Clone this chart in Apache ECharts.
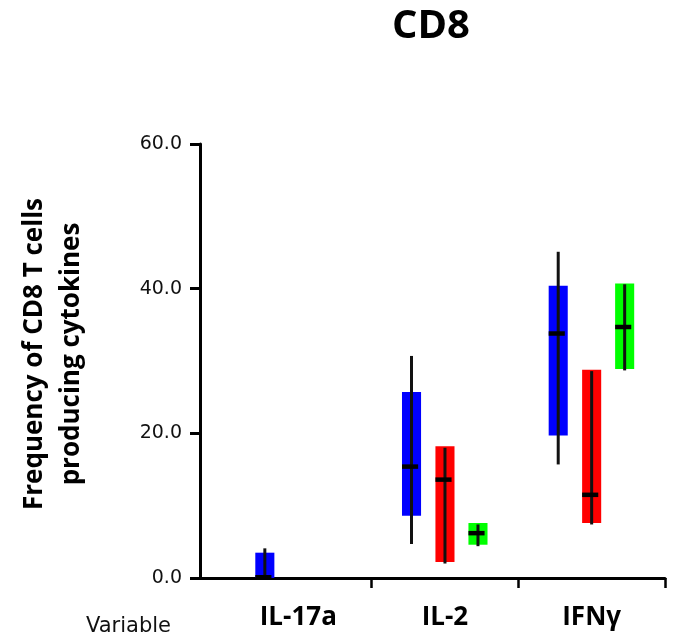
<!DOCTYPE html>
<html>
<head>
<meta charset="utf-8">
<script src="https://cdn.jsdelivr.net/npm/echarts@6/dist/echarts.min.js"></script>
<style>
  html, body { margin: 0; padding: 0; background: #fff; }
  #main { width: 683px; height: 637px; }
</style>
</head>
<body>
<div id="main"></div>
<script>
// categories on the x axis
var categories = ['IL-17a', 'IL-2', 'IFNγ'];
var yTicks = [0, 20, 40, 60];

// blue group
var blueWhiskerLow  = [0,   4.7, 15.7];
var blueBoxLow      = [0,   8.6, 19.7];
var blueMedian      = [0.1, 15.4, 33.8];
var blueBoxHigh     = [3.5, 25.7, 40.4];
var blueWhiskerHigh = [4.1, 30.7, 45.1];

// red group (nothing for IL-17a)
var redWhiskerLow  = [null, 2.0, 7.4];
var redBoxLow      = [null, 2.2, 7.6];
var redMedian      = [null, 13.6, 11.5];
var redBoxHigh     = [null, 18.2, 28.8];
var redWhiskerHigh = [null, 18.0, 28.6];

// green group (nothing for IL-17a)
var greenWhiskerLow  = [null, 4.4, 28.7];
var greenBoxLow      = [null, 4.6, 28.9];
var greenMedian      = [null, 6.2, 34.7];
var greenBoxHigh     = [null, 7.6, 40.7];
var greenWhiskerHigh = [null, 7.4, 40.6];

// build [x, whiskerLow, boxLow, median, boxHigh, whiskerHigh]
function rows(wl, bl, md, bh, wh) {
    var out = [];
    for (var i = 0; i < categories.length; i++) {
        if (bl[i] == null) continue;
        out.push([i, wl[i], bl[i], md[i], bh[i], wh[i]]);
    }
    return out;
}

function boxSeries(name, color, offset, data) {
    return {
        name: name,
        type: 'custom',
        data: data,
        encode: { x: 0, y: [1, 2, 3, 4, 5] },
        renderItem: function (params, api) {
            var x = api.value(0) + offset;
            var boxW = api.size([0.13, 0])[0];
            var medW = api.size([0.11, 0])[0];
            var pWl = api.coord([x, api.value(1)]);
            var pBl = api.coord([x, api.value(2)]);
            var pMd = api.coord([x, api.value(3)]);
            var pBh = api.coord([x, api.value(4)]);
            var pWh = api.coord([x, api.value(5)]);
            var cx = pBl[0];
            return {
                type: 'group',
                children: [{
                    type: 'rect',
                    shape: { x: cx - boxW / 2, y: pBh[1], width: boxW, height: pBl[1] - pBh[1] },
                    style: { fill: color }
                }, {
                    type: 'line',
                    shape: { x1: cx, y1: pWh[1], x2: cx, y2: pWl[1] },
                    style: { stroke: '#111', lineWidth: 3 }
                }, {
                    type: 'line',
                    shape: { x1: cx - boxW / 2, y1: pMd[1], x2: cx - boxW / 2 + medW, y2: pMd[1] },
                    style: { stroke: '#000', lineWidth: 4.5 }
                }]
            };
        }
    };
}

var myChart = echarts.init(document.getElementById('main'));
var options = {
    backgroundColor: '#fff',
    animation: false,
    title: [{
        text: 'CD8',
        left: 426,
        top: 2,
        textAlign: 'center',
        textStyle: { fontFamily: 'Open Sans', fontWeight: 'bold', fontSize: 40, color: '#000' }
    }, {
        text: 'Variable',
        left: 81,
        top: 611,
        textStyle: { fontFamily: 'DejaVu Sans', fontWeight: 'normal', fontSize: 21, color: '#111' }
    }],
    grid: { left: 200, right: 18, top: 144, bottom: 59, outerBoundsMode: 'none' },
    xAxis: {
        type: 'value',
        min: -0.67,
        max: 2.5,
        splitLine: { show: false },
        axisLine: { show: true, lineStyle: { color: '#000', width: 3 } },
        axisTick: { show: true, customValues: [0.5, 1.5, 2.5], length: 10, lineStyle: { color: '#000', width: 2.5 } },
        axisLabel: {
            customValues: [0, 1, 2],
            formatter: function (v) { return categories[Math.round(v)]; },
            margin: 27,
            fontFamily: 'Open Sans',
            fontWeight: 'bold',
            fontSize: 26,
            color: '#000'
        }
    },
    yAxis: {
        type: 'value',
        min: 0,
        max: 60,
        interval: 20,
        name: 'Frequency of CD8 T cells\nproducing cytokines',
        nameLocation: 'middle',
        nameGap: 110,
        nameTextStyle: { fontFamily: 'Open Sans', fontWeight: 'bold', fontSize: 26, lineHeight: 37, color: '#000', padding: [0, 0, 0, 14] },
        splitLine: { show: false },
        axisLine: { show: true, onZero: false, lineStyle: { color: '#000', width: 3 } },
        axisTick: { show: true, length: 10, lineStyle: { color: '#000', width: 3 } },
        axisLabel: {
            customValues: yTicks,
            formatter: function (v) { return v.toFixed(1); },
            margin: 18,
            fontFamily: 'DejaVu Sans',
            fontSize: 19,
            color: '#111'
        }
    },
    series: [
        boxSeries('blue', '#0000ff', -0.228, rows(blueWhiskerLow, blueBoxLow, blueMedian, blueBoxHigh, blueWhiskerHigh)),
        boxSeries('red', '#ff0000', 0, rows(redWhiskerLow, redBoxLow, redMedian, redBoxHigh, redWhiskerHigh)),
        boxSeries('green', '#00ff00', 0.225, rows(greenWhiskerLow, greenBoxLow, greenMedian, greenBoxHigh, greenWhiskerHigh))
    ]
};
myChart.setOption(options, true);
</script>
</body>
</html>
